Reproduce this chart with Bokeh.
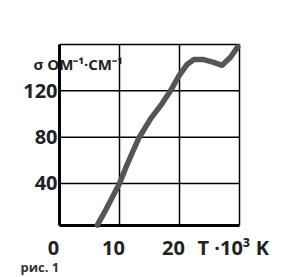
from bokeh.plotting import figure
from bokeh.models import Range1d
from bokeh.core.properties import value
from bokeh.embed import file_html
from bokeh.resources import INLINE

# data
temp_k = [6.3, 7.7, 8.8, 10.0, 11.0, 12.0, 13.2, 15.2, 17.1, 18.5, 19.9, 21.3, 22.4, 24.0, 25.7, 27.1, 28.5, 29.7]
sigma = [4, 17, 28, 40, 53, 65, 79, 96, 109, 120, 133, 143, 147, 147, 144.5, 142, 149, 158]
x_ticks = [0, 10, 20]
y_ticks = [40, 80, 120]
x_min, x_max = 0, 30
y_min, y_max = 3.7, 160

FONT = value("Open Sans")

# canvas and box placement (pixels)
W, H = 280, 275
L, R, T, B = 59, 239, 44, 225
sx = (R - L) / (x_max - x_min)
sy = (B - T) / (y_max - y_min)
xr = Range1d(x_min - L / sx, x_max + (W - R) / sx)
yr = Range1d(y_min - (H - B) / sy, y_max + T / sy)

p = figure(width=W, height=H, output_backend="svg", toolbar_location=None,
           x_range=xr, y_range=yr, min_border=0)
p.axis.visible = False
p.grid.visible = False
p.outline_line_color = None
p.background_fill_color = "white"
p.border_fill_color = "white"

# grid lines
gx = [t for t in x_ticks if t > x_min]
p.segment(x0=gx, y0=[y_min] * len(gx), x1=gx, y1=[y_max] * len(gx), line_color="black", line_width=1.5)
p.segment(x0=[x_min] * len(y_ticks), y0=y_ticks, x1=[x_max] * len(y_ticks), y1=y_ticks,
          line_color="black", line_width=1.5)
# thin top / right box edges
p.segment(x0=[x_min, x_max], y0=[y_max, y_min], x1=[x_max, x_max], y1=[y_max, y_max],
          line_color="black", line_width=1.5)
# thick left / bottom axes
p.segment(x0=[x_min, x_min], y0=[y_min, y_min], x1=[x_min, x_max], y1=[y_max, y_min],
          line_color="black", line_width=3)

p.line(temp_k, sigma, line_color="#555555", line_width=5.5, line_join="round", line_cap="round")

common = dict(text_baseline="alphabetic", text_font=FONT, text_font_style="bold", text_color="#222222")

p.text(x=[x_min] * len(y_ticks), y=y_ticks, text=[str(t) for t in y_ticks], x_offset=-2,
       text_align="right", text_font_size="20px", **common)
p.text(x=x_ticks, y=[y_min] * len(x_ticks), text=[str(t) for t in x_ticks], x_offset=-6, y_offset=22,
       text_align="center", text_font_size="20px", **common)
p.text(x=[x_max], y=[y_min], text=["T ·10³ K"], x_offset=-42, y_offset=22,
       text_align="left", text_font_size="20px", **common)
p.text(x=[x_min], y=[y_max], text=["σ ОМ⁻¹·СМ⁻¹"], x_offset=-26, y_offset=19,
       text_align="left", text_font_size="15px", **common)
p.text(x=[x_min], y=[y_min], text=["рис. 1"], x_offset=-39, y_offset=41,
       text_align="left", text_font_size="13px", text_baseline="alphabetic", text_font=FONT,
       text_font_style="bold", text_color="#333333")

open("out.html", "w").write(file_html(p, INLINE))
